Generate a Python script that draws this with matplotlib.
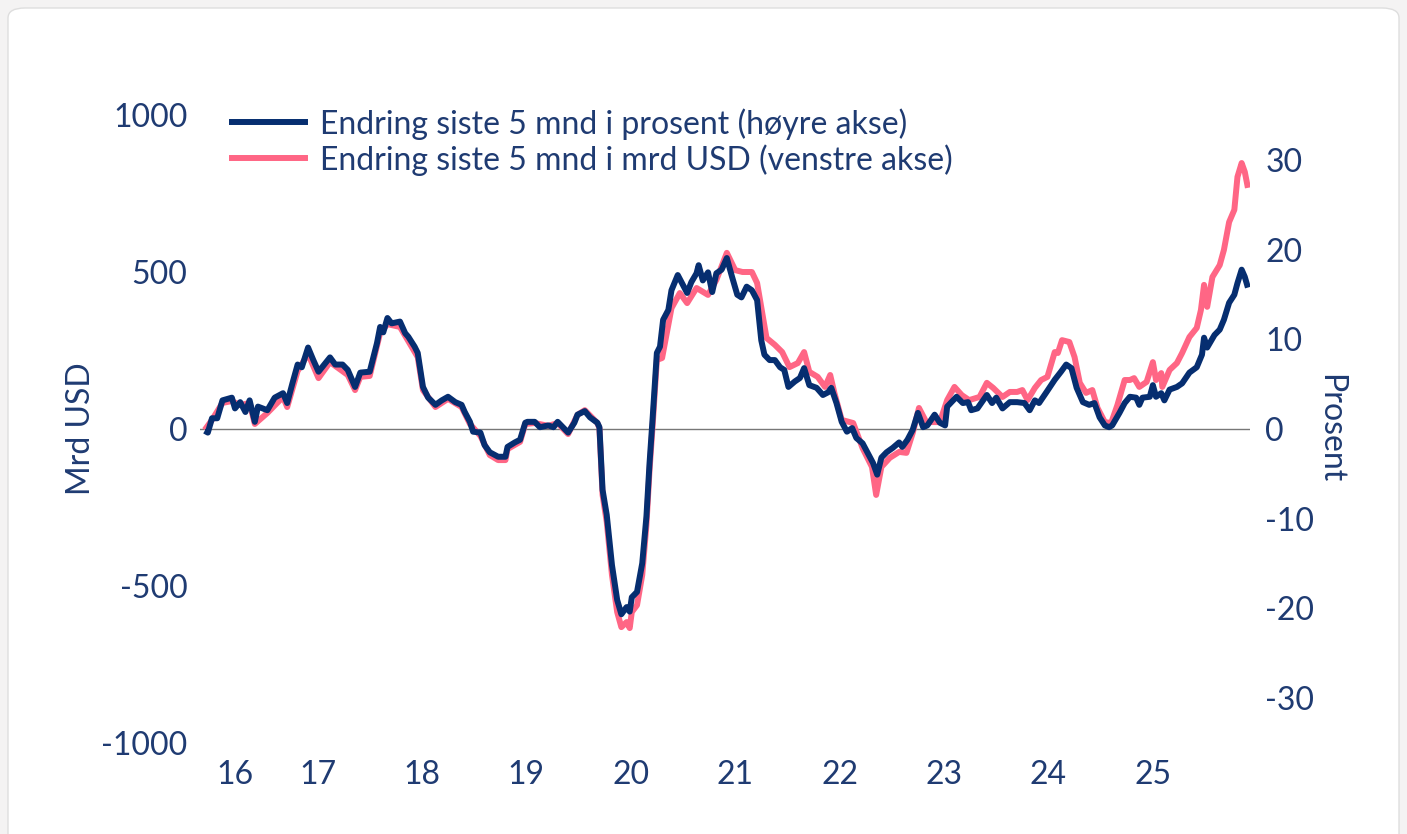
import matplotlib
matplotlib.use("Agg")
import matplotlib.pyplot as plt
from matplotlib.patches import FancyBboxPatch
from matplotlib.lines import Line2D

plt.rcParams['font.family'] = ['Lato', 'DejaVu Sans']

# ---- data ----
pct_dates = [2016.42, 2016.45, 2016.49, 2016.54, 2016.59, 2016.68, 2016.71, 2016.76, 2016.81, 2016.85,
             2016.90, 2016.93, 2017.02, 2017.09, 2017.17, 2017.21, 2017.26, 2017.31, 2017.35, 2017.41,
             2017.46, 2017.51, 2017.62, 2017.67, 2017.74, 2017.79, 2017.86, 2017.91, 2018.00, 2018.07,
             2018.10, 2018.13, 2018.17, 2018.21, 2018.29, 2018.34, 2018.37, 2018.43, 2018.46, 2018.51,
             2018.56, 2018.63, 2018.69, 2018.75, 2018.82, 2018.88, 2018.91, 2018.96, 2018.99, 2019.06,
             2019.10, 2019.15, 2019.23, 2019.30, 2019.32, 2019.39, 2019.44, 2019.49, 2019.51, 2019.58,
             2019.63, 2019.71, 2019.76, 2019.80, 2019.85, 2019.90, 2019.96, 2019.99, 2020.06, 2020.11,
             2020.18, 2020.20, 2020.23, 2020.27, 2020.32, 2020.37, 2020.41, 2020.46, 2020.49, 2020.51,
             2020.56, 2020.61, 2020.65, 2020.68, 2020.71, 2020.75, 2020.78, 2020.81, 2020.86, 2020.89,
             2020.95, 2021.04, 2021.08, 2021.13, 2021.15, 2021.19, 2021.24, 2021.28, 2021.32, 2021.37,
             2021.42, 2021.47, 2021.52, 2021.56, 2021.61, 2021.66, 2021.71, 2021.75, 2021.78, 2021.83,
             2021.88, 2021.93, 2021.97, 2022.01, 2022.07, 2022.12, 2022.16, 2022.21, 2022.28, 2022.34,
             2022.39, 2022.42, 2022.47, 2022.52, 2022.57, 2022.62, 2022.66, 2022.72, 2022.77, 2022.82,
             2022.86, 2022.90, 2022.95, 2023.01, 2023.07, 2023.10, 2023.15, 2023.20, 2023.25, 2023.30,
             2023.34, 2023.41, 2023.46, 2023.51, 2023.53, 2023.62, 2023.68, 2023.73, 2023.76, 2023.82,
             2023.91, 2023.96, 2024.00, 2024.06, 2024.13, 2024.20, 2024.27, 2024.32, 2024.37, 2024.41,
             2024.48, 2024.56, 2024.62, 2024.67, 2024.72, 2024.77, 2024.83, 2024.89, 2024.94, 2024.99,
             2025.04, 2025.08, 2025.11, 2025.18, 2025.23, 2025.28, 2025.34, 2025.37, 2025.40, 2025.47,
             2025.50, 2025.53, 2025.58, 2025.61, 2025.66, 2025.73, 2025.78, 2025.85, 2025.92, 2025.97,
             2025.99, 2026.02, 2026.09, 2026.14, 2026.18, 2026.23, 2026.28, 2026.31, 2026.35, 2026.38,
             2026.41]
pct_values = [-0.2, -0.4, 1.2, 1.2, 3.2, 3.5, 2.3, 3.0, 1.9, 3.2,
              0.8, 2.5, 2.1, 3.5, 4.0, 2.9, 5.1, 7.2, 6.9, 9.1,
              7.7, 6.4, 8.0, 7.2, 7.2, 6.6, 4.7, 6.3, 6.4, 9.6,
              11.4, 10.8, 12.4, 11.8, 12.0, 10.7, 10.3, 9.2, 8.5, 4.7,
              3.5, 2.7, 3.2, 3.6, 3.0, 2.7, 1.9, 0.8, -0.3, -0.4,
              -1.8, -2.6, -3.1, -3.1, -2.0, -1.5, -1.2, 0.7, 0.8, 0.8,
              0.2, 0.4, 0.2, 0.8, 0.2, -0.4, 0.7, 1.6, 2.0, 1.3,
              0.7, 0.2, -6.8, -9.6, -15.2, -19.1, -20.7, -19.9, -20.4, -18.8,
              -18.2, -15.0, -9.8, -3.8, 1.3, 8.5, 9.2, 12.2, 13.3, 15.5,
              17.2, 15.2, 16.4, 17.4, 18.3, 16.6, 17.5, 15.3, 17.4, 17.8,
              19.1, 17.0, 15.0, 14.7, 15.9, 15.5, 14.4, 9.9, 8.3, 7.7,
              7.7, 6.9, 6.6, 4.7, 5.3, 5.7, 6.8, 4.9, 4.6, 3.8,
              4.1, 4.6, 2.9, 0.8, -0.3, 0.1, -1.0, -1.6, -2.7, -3.8,
              -5.1, -3.2, -2.6, -2.1, -1.5, -2.0, -1.2, -0.1, 1.8, 0.2,
              0.4, 1.6, 0.7, 0.4, 2.5, 3.6, 2.9, 3.0, 2.1, 2.3,
              3.8, 2.9, 3.5, 2.3, 3.0, 3.0, 2.9, 2.1, 3.2, 2.9,
              4.1, 5.5, 6.4, 7.2, 6.8, 4.6, 3.0, 2.7, 2.9, 1.3,
              0.4, 0.2, 0.4, 1.8, 2.9, 3.6, 3.5, 2.7, 3.5, 3.6,
              4.9, 3.6, 4.0, 3.2, 4.4, 4.7, 5.1, 6.3, 6.9, 8.3,
              10.2, 9.1, 10.5, 11.1, 12.2, 14.1, 15.0, 16.3, 17.8, 17.0,
              15.8]

usd_dates = [2016.42, 2016.49, 2016.59, 2016.68, 2016.76, 2016.85, 2016.90, 2017.02, 2017.17, 2017.21,
             2017.31, 2017.41, 2017.51, 2017.62, 2017.79, 2017.86, 2017.91, 2018.00, 2018.10, 2018.17,
             2018.29, 2018.37, 2018.46, 2018.51, 2018.63, 2018.75, 2018.88, 2018.96, 2019.06, 2019.15,
             2019.23, 2019.30, 2019.32, 2019.44, 2019.49, 2019.58, 2019.71, 2019.80, 2019.90, 2019.99,
             2020.06, 2020.18, 2020.20, 2020.23, 2020.27, 2020.32, 2020.37, 2020.41, 2020.46, 2020.49,
             2020.51, 2020.56, 2020.61, 2020.65, 2020.68, 2020.71, 2020.75, 2020.80, 2020.86, 2020.89,
             2020.97, 2021.04, 2021.13, 2021.24, 2021.32, 2021.42, 2021.50, 2021.57, 2021.66, 2021.71,
             2021.80, 2021.88, 2021.95, 2022.02, 2022.10, 2022.16, 2022.21, 2022.29, 2022.36, 2022.41,
             2022.45, 2022.52, 2022.63, 2022.72, 2022.81, 2022.85, 2022.90, 2022.98, 2023.07, 2023.14,
             2023.20, 2023.26, 2023.33, 2023.46, 2023.53, 2023.60, 2023.67, 2023.74, 2023.84, 2023.91,
             2023.97, 2024.01, 2024.06, 2024.13, 2024.20, 2024.25, 2024.30, 2024.37, 2024.43, 2024.49,
             2024.56, 2024.59, 2024.63, 2024.70, 2024.75, 2024.80, 2024.86, 2024.92, 2024.97, 2025.04,
             2025.10, 2025.16, 2025.23, 2025.28, 2025.32, 2025.37, 2025.44, 2025.50, 2025.53, 2025.58,
             2025.59, 2025.66, 2025.73, 2025.78, 2025.85, 2025.92, 2025.96, 2025.99, 2026.02, 2026.07,
             2026.14, 2026.18, 2026.23, 2026.28, 2026.31, 2026.35, 2026.38, 2026.41]
usd_values = [-3, 29, 83, 89, 76, 83, 16, 51, 102, 70,
              185, 239, 162, 213, 172, 124, 166, 169, 306, 334,
              325, 280, 229, 124, 70, 96, 70, 16, -22, -83,
              -99, -99, -64, -41, 16, 19, 10, 19, -16, 45,
              60, 19, 3, -210, -296, -465, -583, -631, -615, -634,
              -583, -561, -465, -306, -131, 13, 220, 226, 331, 385,
              433, 401, 449, 427, 475, 561, 506, 500, 500, 465,
              290, 268, 245, 197, 210, 245, 182, 166, 134, 172,
              115, 29, 19, -61, -121, -210, -121, -92, -73, -76,
              -13, 67, 22, 22, 92, 134, 108, 92, 102, 147,
              131, 118, 102, 118, 118, 124, 92, 131, 156, 166,
              245, 242, 283, 277, 229, 147, 115, 124, 67, 22,
              19, 76, 156, 156, 162, 134, 150, 213, 156, 178,
              134, 188, 210, 242, 293, 322, 379, 459, 389, 484,
              522, 570, 659, 698, 803, 847, 819, 768]

year_labels = ['16', '17', '18', '19', '20', '21', '22', '23', '24', '25']
left_ticks = [-1000, -500, 0, 500, 1000]
right_ticks = [-30, -20, -10, 0, 10, 20, 30]
legend_labels = ['Endring siste 5 mnd i prosent (høyre akse)',
                 'Endring siste 5 mnd i mrd USD (venstre akse)']

NAVY = '#062e70'
PINK = '#ff6685'
TEXT = '#1f3b72'
FS = 23
LW = 4.3

W, H = 1407, 834
fig = plt.figure(figsize=(W / 100, H / 100), dpi=100)
fig.patch.set_facecolor('#f4f3f3')
card = FancyBboxPatch((8 / W, -0.05), (1399 - 8) / W, (H - 8) / H + 0.05,
                      boxstyle='round,pad=0,rounding_size=0.012',
                      transform=fig.transFigure, facecolor='white',
                      edgecolor='#dedede', linewidth=1.0, zorder=0)
fig.add_artist(card)

ax = fig.add_axes([200 / W, 1 - 743 / H, (1250 - 200) / W, (743 - 115) / H])
ax.set_facecolor('none')
ax2 = ax.twinx()

ax.plot(usd_dates, usd_values, color=PINK, lw=LW, solid_joinstyle='round',
        solid_capstyle='butt', zorder=3)
ax2.plot(pct_dates, pct_values, color=NAVY, lw=LW, solid_joinstyle='round',
         solid_capstyle='butt', zorder=4)
ax.axhline(0, color='#777777', lw=1.0, zorder=2)

ax.set_xlim(pct_dates[0] - 0.045, pct_dates[-1] + 0.02)
ax.set_ylim(-1000, 1000)
ax2.set_ylim(-35.08, 35.08)

first_year = int(pct_dates[0])
xt = [(pct_dates[0] + first_year + 1) / 2] + [first_year + i + 0.5 for i in range(1, len(year_labels))]
ax.set_xticks(xt)
ax.set_xticklabels(year_labels)
ax.set_yticks(left_ticks)
ax.set_yticklabels([str(v) for v in left_ticks])
ax2.set_yticks(right_ticks)
ax2.set_yticklabels([str(v) for v in right_ticks])

for a in (ax, ax2):
    for s in a.spines.values():
        s.set_visible(False)
ax.tick_params(axis='both', length=0, labelsize=FS, labelcolor=TEXT)
ax.tick_params(axis='x', pad=12)
ax.tick_params(axis='y', pad=9)
ax2.tick_params(axis='y', length=0, labelsize=FS, labelcolor=TEXT, pad=11)

ax.set_ylabel('Mrd USD', fontsize=FS, color=TEXT, labelpad=4)
ax2.set_ylabel('Prosent', fontsize=FS, color=TEXT, rotation=270, labelpad=22)

# legend
for i, (lab, col) in enumerate(zip(legend_labels, [NAVY, PINK])):
    y = 1 - (122 + 36 * i) / H
    fig.add_artist(Line2D([232 / W, 305 / W], [y, y], color=col, lw=LW,
                          transform=fig.transFigure))
    fig.text(320 / W, y - 2 / H, lab, fontsize=FS, color=TEXT,
             va='center', ha='left')

fig.savefig('out.png', dpi=100, facecolor=fig.get_facecolor())
